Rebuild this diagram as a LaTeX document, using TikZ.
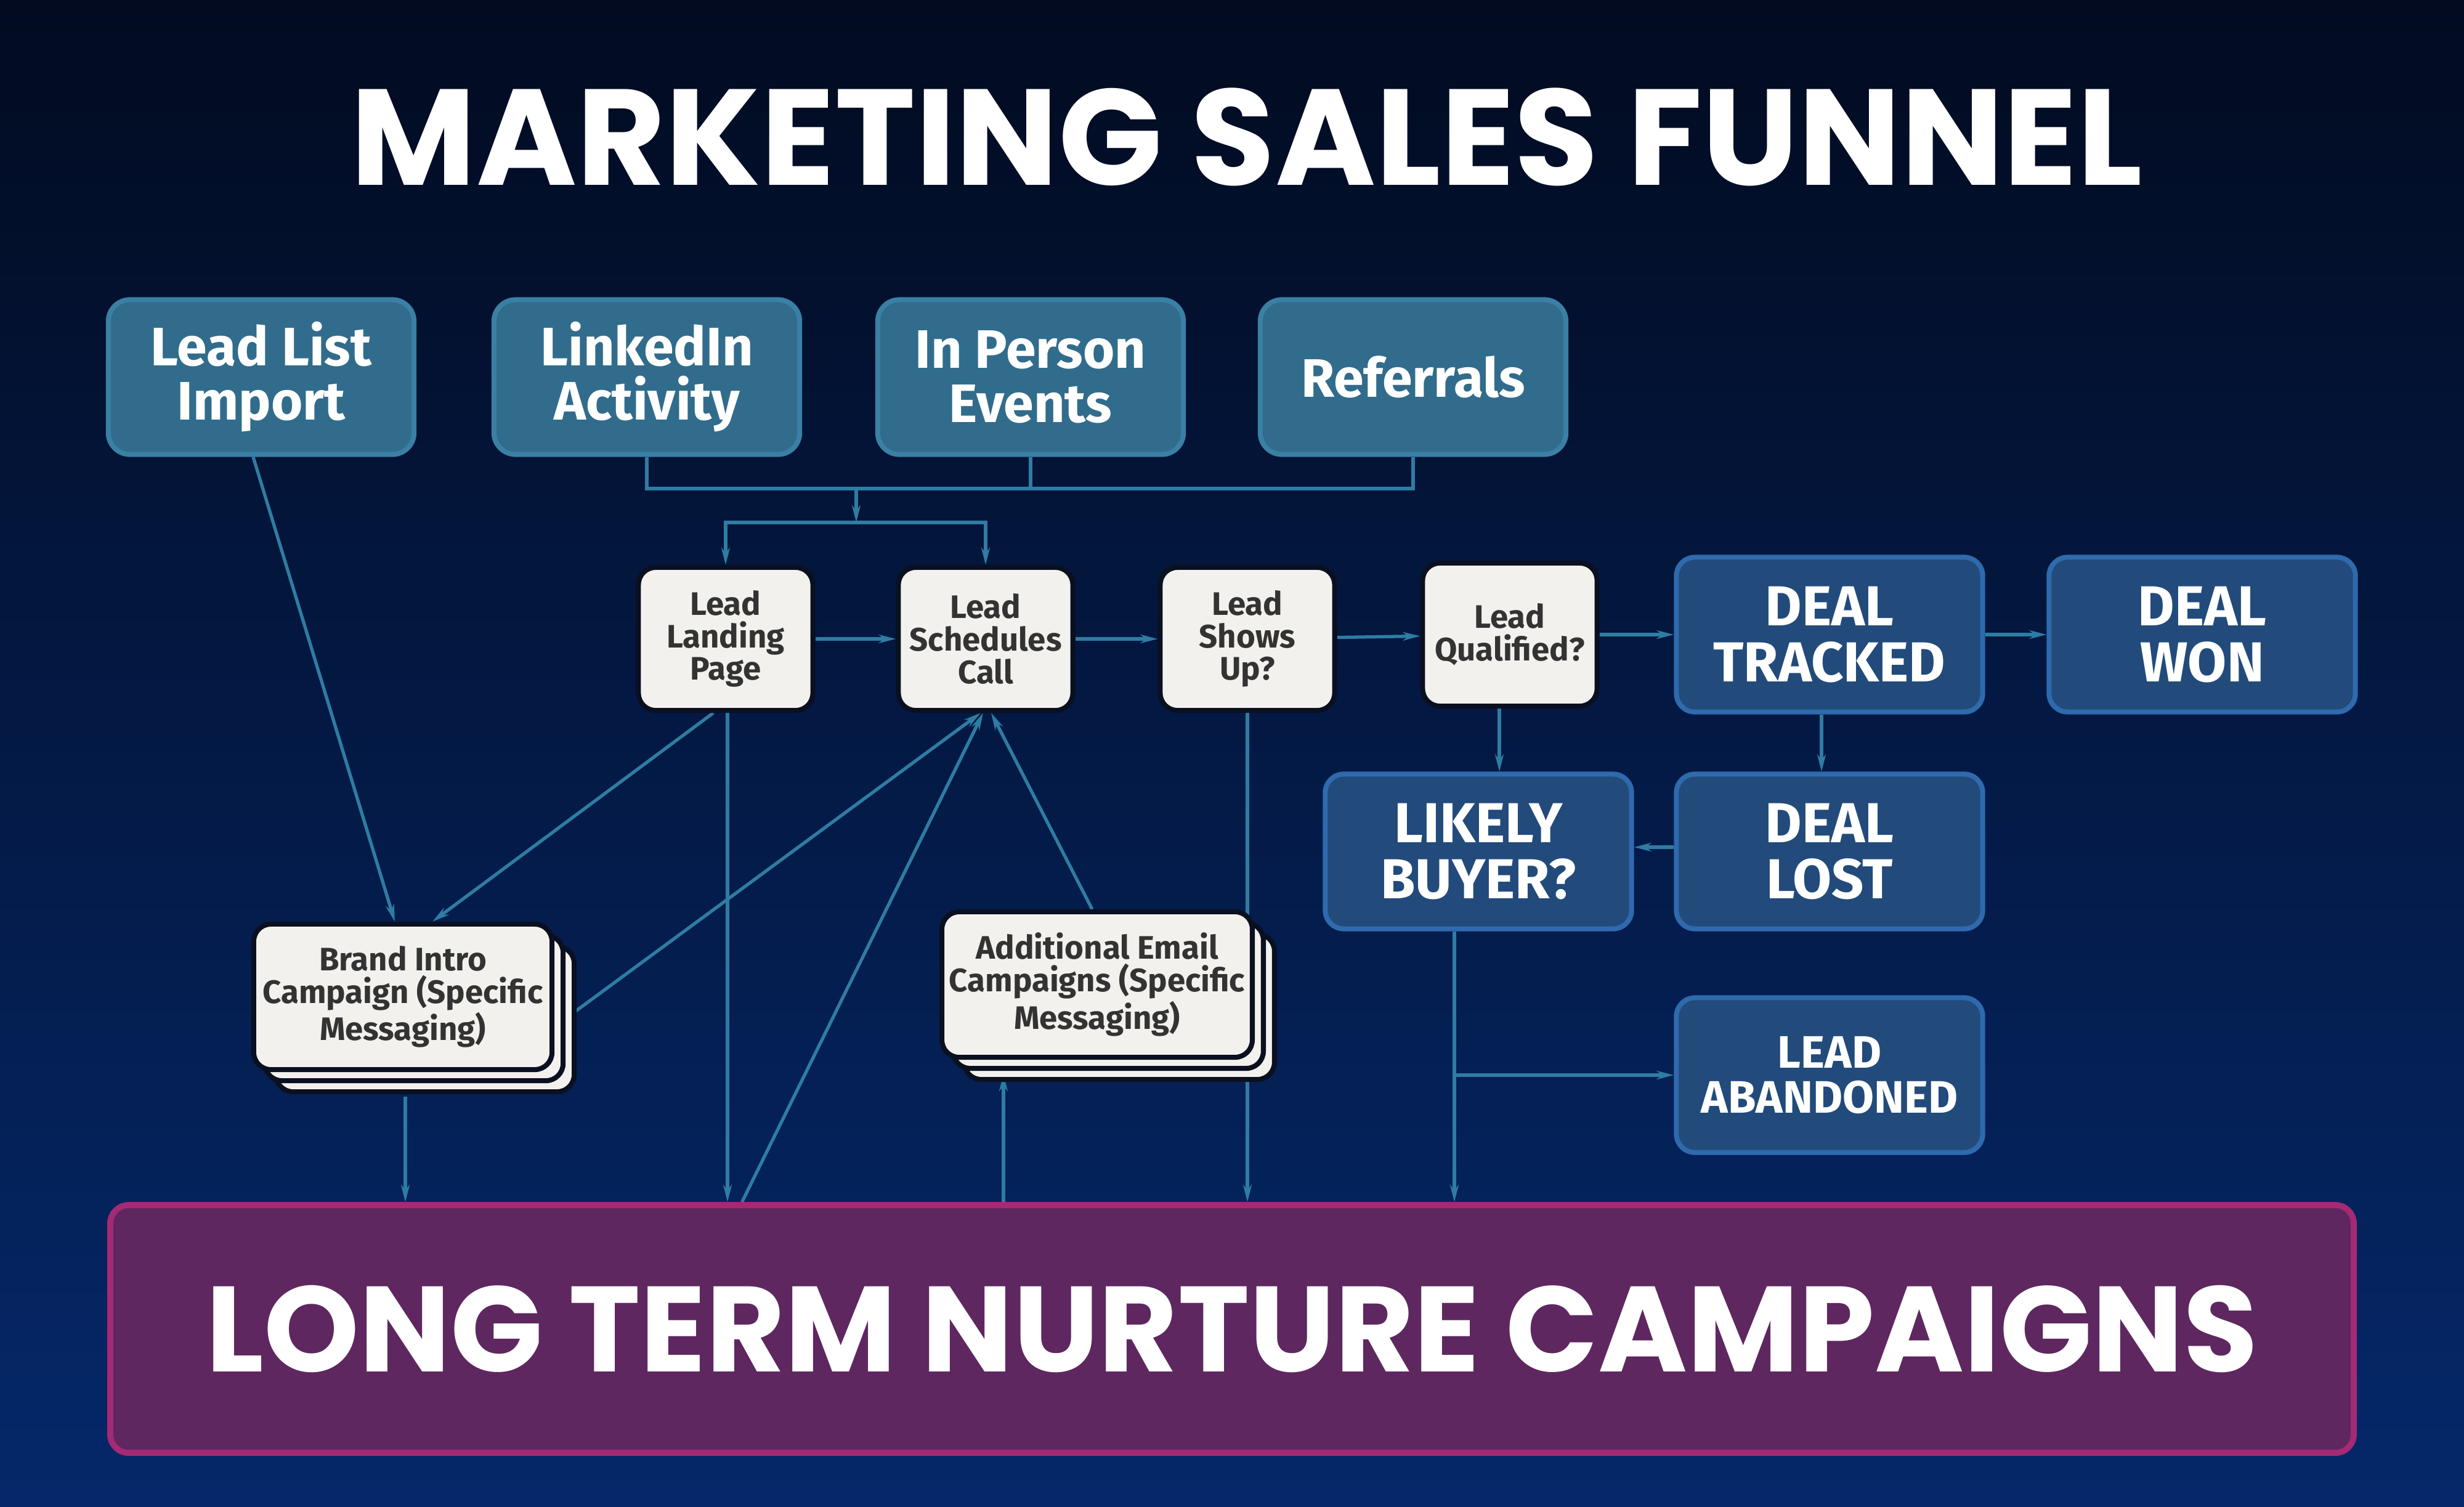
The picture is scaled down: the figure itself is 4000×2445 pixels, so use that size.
\documentclass[tikz,border=0pt]{standalone}
\usepackage{fontspec}
\setmainfont{Fira Sans}
\newfontfamily\titlefont{Poppins}
\usetikzlibrary{arrows.meta,shadows,backgrounds}
\definecolor{bgtop}{HTML}{020B20}
\definecolor{bgbot}{HTML}{05286A}
\definecolor{srcfill}{HTML}{316C8C}
\definecolor{srcedge}{HTML}{3A80A5}
\definecolor{dealfill}{HTML}{224B7B}
\definecolor{dealedge}{HTML}{2E6AAD}
\definecolor{cardfill}{HTML}{F3F1EE}
\definecolor{cardedge}{HTML}{0A1020}
\definecolor{cardtext}{HTML}{333333}
\definecolor{nurfill}{HTML}{5E2760}
\definecolor{nuredge}{HTML}{A42A73}
\definecolor{linkcol}{HTML}{2F7CA3}
\begin{document}
\begin{tikzpicture}[x=0.01cm,y=-0.01cm,
  src/.style={draw=srcedge, fill=srcfill, line width=2.3pt, rounded corners=0.35cm,
    minimum width=4.96cm, minimum height=2.51cm, text=white, align=center,
    font=\bfseries\fontsize{25}{25}\selectfont},
  card/.style={draw=cardedge, fill=cardfill, line width=2.3pt, rounded corners=0.28cm,
    minimum width=2.83cm, minimum height=2.32cm, text=cardtext, align=center,
    font=\bfseries\fontsize{15}{15}\selectfont},
  stack/.style={card, minimum width=4.84cm, minimum height=2.36cm,
    copy shadow={shadow xshift=0.36cm, shadow yshift=-0.36cm, fill=cardfill, draw=cardedge, line width=2.3pt},
    copy shadow={shadow xshift=0.18cm, shadow yshift=-0.18cm, fill=cardfill, draw=cardedge, line width=2.3pt}},
  deal/.style={draw=dealedge, fill=dealfill, line width=2.3pt, rounded corners=0.3cm,
    minimum width=4.97cm, minimum height=2.51cm, text=white, align=center,
    font=\bfseries\fontsize{26}{26}\selectfont},
  line/.style={draw=linkcol, line width=1.5pt},
  link/.style={line, -{Stealth[length=0.28cm,width=0.14cm]}},
]
\useasboundingbox (0,0) rectangle (4000,2445);
\begin{scope}[on background layer]
\shade[top color=bgtop, bottom color=bgbot] (0,0) rectangle (4000,2445);
\end{scope}

\node[text=white, font=\titlefont\bfseries\fontsize{63}{64}\selectfont] (title) at (2024,222) {MARKETING SALES FUNNEL};

% lead sources
\node[src] (leadlist) at (424,612) {Lead List\\Import};
\node[src] (linkedin) at (1050,612) {LinkedIn\\Activity};
\node[src] (inperson) at (1673,612) {In Person\\Events};
\node[src] (referrals) at (2294,612) {Referrals};

% main row
\node[card] (landing) at (1178,1037) {Lead\\Landing\\Page};
\node[card] (schedules) at (1600,1037) {Lead\\Schedules\\Call};
\node[card] (showsup) at (2025,1037) {Lead\\Shows\\Up?};
\node[card] (qualified) at (2451,1030) {Lead\\Qualified?};
\node[deal] (tracked) at (2970,1030) {DEAL\\TRACKED};
\node[deal] (won) at (3575,1030) {DEAL\\WON};
\node[deal] (buyer) at (2400,1382) {LIKELY\\BUYER?};
\node[deal] (lost) at (2970,1382) {DEAL\\LOST};
\node[deal, font=\bfseries\fontsize{21}{21}\selectfont] (abandoned) at (2970,1745) {LEAD\\ABANDONED};

% campaigns
\node[stack] (brand) at (654,1618) {Brand Intro\\Campaign (Specific\\Messaging)};
\node[stack, minimum width=4.88cm] (email) at (1781,1598) {Additional Email\\Campaigns (Specific\\Messaging)};

\node[draw=nuredge, fill=nurfill, line width=2.8pt, rounded corners=0.3cm,
  minimum width=36.4cm, minimum height=4.02cm, text=white,
  font=\titlefont\bfseries\fontsize{56}{58}\selectfont] (nurture) at (2000,2157) {LONG TERM NURTURE CAMPAIGNS};

\coordinate (srcbus) at (1390,793);
\coordinate (split) at (1390,848);
\coordinate (qdrop) at ([xshift=-0.17cm]qualified.south);
\coordinate (bdrop) at ([xshift=-0.39cm]buyer.south);
\coordinate (embot) at ([shift={(-1.52cm,-0.23cm)}]email.south);
\coordinate (brbot) at ([shift={(0.04cm,-0.4cm)}]brand.south);

\begin{scope}[on background layer]
\draw[line] (linkedin.south) |- (srcbus) -| (referrals.south);
\draw[line] (inperson.south) -- (inperson.south |- srcbus);
\draw[link] (srcbus) -- (split);
\draw[link] (split) -| (landing.north);
\draw[link] (split) -| (schedules.north);

\draw[link] (landing) -- (schedules);
\draw[link] (schedules) -- (showsup);
\draw[link] (showsup) -- (qualified);
\draw[link] (qualified) -- (tracked);
\draw[link] (tracked) -- (won);
\draw[link] ([xshift=-0.13cm]tracked.south) -- ([xshift=-0.13cm]lost.north);
\draw[link] ([yshift=0.07cm]lost.west) -- ([yshift=0.07cm]buyer.east);
\draw[link] (qdrop) -- (qdrop |- buyer.north);
\draw[link] (bdrop) -- (bdrop |- nurture.north);
\draw[link] (bdrop |- abandoned.west) -- (abandoned.west);

\draw[link] ([xshift=-0.13cm]leadlist.south) -- ([xshift=-0.13cm]brand.north);
\draw[link] ([xshift=-0.2cm]landing.south) -- ([xshift=0.48cm]brand.north);
\draw[link] ([xshift=0.03cm]landing.south) -- ([xshift=0.03cm]landing.south |- nurture.north);
\draw[link] ([shift={(0.21cm,-0.33cm)}]brand.east) -- ([xshift=-0.08cm]schedules.south);
\draw[link] ([xshift=-7.95cm]nurture.north) -- ([xshift=-0.04cm]schedules.south);
\draw[link] ([xshift=-0.08cm]email.north) -- ([xshift=0.09cm]schedules.south);
\draw[link] (brbot) -- (brbot |- nurture.north);
\draw[link] (embot |- nurture.north) -- (embot);
\draw[link] (showsup.south) -- (showsup.south |- nurture.north);
\end{scope}
\end{tikzpicture}
\end{document}
